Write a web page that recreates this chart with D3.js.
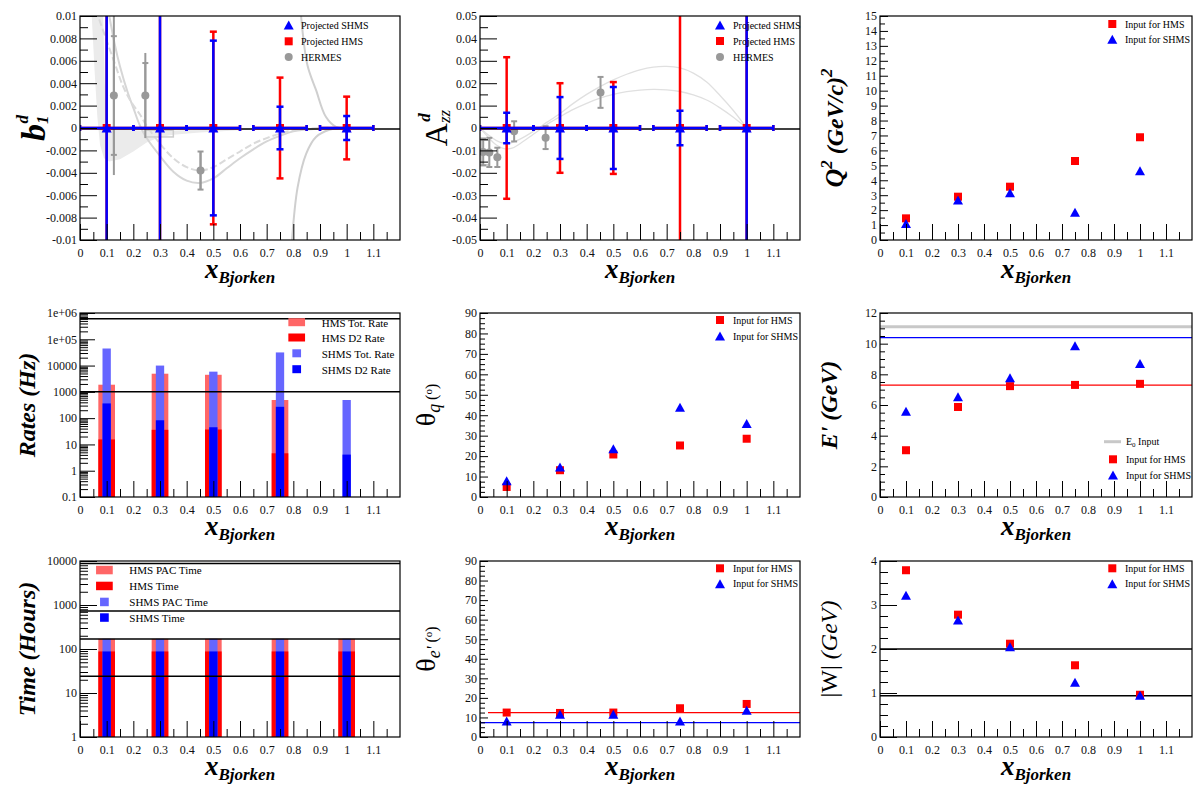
<!DOCTYPE html>
<html><head><meta charset="utf-8">
<script src="https://cdn.jsdelivr.net/npm/d3@7"></script>
<style>
body{margin:0;background:#fff;}
svg{display:block;background:#fff;}
</style></head><body>
<svg id="chart" width="1200" height="800"></svg>
<script>
// ================= DATA =================
const xTickVals   = [0,0.1,0.2,0.3,0.4,0.5,0.6,0.7,0.8,0.9,1.0,1.1];
const xTickLabels = ["0","0.1","0.2","0.3","0.4","0.5","0.6","0.7","0.8","0.9","1","1.1"];
const xMinorVals  = [0.05,0.15,0.25,0.35,0.45,0.55,0.65,0.75,0.85,0.95,1.05,1.15];

const xBins   = [0.1, 0.3, 0.5, 0.75, 1.0];
const xBinErr = [0.1, 0.1, 0.1, 0.1, 0.1];

// b1d projections
const b1dProj    = [0, 0, 0, 0, 0];
const b1dErrSHMS = [0.03, 0.03, 0.0078, 0.0019, 0.00107];
const b1dErrHMS  = [0.02, 0.02, 0.0086, 0.0045, 0.0028];
const hermesB1dX    = [0.127, 0.245, 0.452];
const hermesB1dY    = [0.0029, 0.0029, -0.0038];
const hermesB1dStat = [0.0053, 0.0029, 0.0017];
const hermesB1dTot  = [0.0071, 0.0038, 0.0017];
const b1dSysX0 = [0.245], b1dSysX1 = [0.35], b1dSysY0 = [-0.0002], b1dSysY1 = [-0.0008];
const b1dBandLowX = [0.044,0.055,0.065,0.075,0.09,0.11,0.15,0.2,0.25,0.3,0.35,0.45,0.6,0.8];
const b1dBandLowY = [0.01,0.005,0.001,-0.0015,-0.0027,-0.003,-0.0028,-0.0021,-0.0013,-0.0008,-0.0006,-0.0004,-0.0002,0];
const b1dBandUpX  = [0.087,0.093,0.1,0.11,0.15,0.2,0.3,0.5,0.8];
const b1dBandUpY  = [0.01,0.004,0.001,0.0,-0.0001,-0.0002,-0.0003,-0.0001,0];
const b1dCurveAX = [0.11,0.13,0.15,0.18,0.2,0.225,0.25,0.3,0.35,0.4,0.45,0.5,0.55,0.6,0.65,0.7,0.75,0.8,0.9,1.0];
const b1dCurveAY = [0.01,0.0075,0.0055,0.0031,0.0018,0.0002,-0.0009,-0.0025,-0.0039,-0.0047,-0.0049,-0.0045,-0.0036,-0.0027,-0.0019,-0.0012,-0.0007,-0.0003,-0.00005,0];
const b1dCurveBX = [0.072,0.1,0.13,0.16,0.19,0.225,0.25,0.3,0.35,0.4,0.45,0.5,0.55,0.6,0.65,0.7,0.75,0.8,0.9,1.0];
const b1dCurveBY = [0.0097,0.0078,0.0058,0.0038,0.0024,0.0012,0.0002,-0.0014,-0.0027,-0.0035,-0.0038,-0.0035,-0.0028,-0.0021,-0.0014,-0.0009,-0.0005,-0.0002,0,0];
const b1dCurveCX = [0.829,0.853,0.885,0.922,0.96,1.0,1.05];
const b1dCurveCY = [0.01,0.0056,0.0034,0.001,0.0001,0,0];
const b1dCurveDX = [0.795,0.816,0.848,0.885,0.935,0.97,1.0];
const b1dCurveDY = [-0.01,-0.0053,-0.0023,-0.0008,-0.00015,-0.00003,0];

// Azz projections
const azzProj    = [0, 0, 0, 0, 0];
const azzErrSHMS = [0.0068, 0.0138, 0.0183, 0.0077, 0.08];
const azzErrHMS  = [0.0316, 0.0200, 0.0205, 0.08, 0.06];
const hermesAzzX   = [0.012, 0.035, 0.065, 0.128, 0.246, 0.452];
const hermesAzzY   = [-0.0107, -0.0109, -0.0131, -0.0015, -0.0043, 0.0159];
const hermesAzzErr = [0.006, 0.0065, 0.0043, 0.0045, 0.0051, 0.0069];
const azzSysX0 = [0.004], azzSysX1 = [0.035], azzSysY0 = [-0.0055], azzSysY1 = [-0.0165];
const azzCurve1X = [0,0.03,0.06,0.09,0.12,0.15,0.2,0.25,0.3,0.35,0.4,0.45,0.5,0.55,0.6,0.65,0.7,0.75,0.8,0.85,0.9,0.95,1.0];
const azzCurve1Y = [0,-0.003,-0.0055,-0.0068,-0.0065,-0.005,-0.0015,0.0025,0.0065,0.011,0.015,0.0185,0.0215,0.024,0.026,0.0272,0.0275,0.0268,0.0245,0.0205,0.0145,0.0078,0];
const azzCurve2X = [0,0.03,0.06,0.09,0.12,0.15,0.2,0.25,0.3,0.35,0.4,0.45,0.5,0.55,0.6,0.65,0.7,0.75,0.8,0.85,0.9,0.95,1.0];
const azzCurve2Y = [0,-0.004,-0.0075,-0.0092,-0.009,-0.007,-0.0028,0.0015,0.005,0.0083,0.011,0.0133,0.015,0.0162,0.0169,0.0172,0.017,0.0163,0.0148,0.0125,0.009,0.0048,0];

// Kinematics
const q2HMS      = [1.45, 2.9, 3.57, 5.29, 6.88];
const q2SHMS     = [1.1, 2.68, 3.17, 1.85, 4.64];
const thetaqHMS  = [4.9, 13.1, 20.8, 25.2, 28.5];
const thetaqSHMS = [8.0, 14.7, 23.6, 43.9, 36.0];
const eprimeHMS  = [3.05, 5.87, 7.23, 7.31, 7.38];
const eprimeSHMS = [5.6, 6.53, 7.77, 9.87, 8.71];
const eBeam = 11.1, eprimeMaxSHMS = 10.4, eprimeMaxHMS = 7.3;
const thetaeHMS  = [12.5, 12.3, 12.5, 14.7, 16.9];
const thetaeSHMS = [8.2, 11.6, 11.6, 8.2, 13.7];
const thetaeMinHMS = 12.5, thetaeMinSHMS = 7.3;
const wHMS  = [3.79, 2.78, 2.12, 1.63, 0.96];
const wSHMS = [3.22, 2.66, 2.05, 1.245, 0.95];
const wLines = [2.0, 0.938];

// Rates (Hz)
const rateHMSTot  = [1870, 4900, 4460, 490, null];
const rateHMSD2   = [15.5, 36, 37, 4.6, null];
const rateSHMSTot = [44600, 10000, 5870, 31600, 490];
const rateSHMSD2  = [363, 83, 45, 270, 4.1];
const rateLines   = [600000, 1000];
// Time (hours)
const timeHMSPAC  = [170, 170, 170, 170, 170];
const timeHMS     = [88, 88, 88, 88, 88];
const timeSHMSPAC = [170, 170, 170, 170, 170];
const timeSHMS    = [88, 88, 88, 88, 88];
const timeLines   = [8760, 730, 168, 24];
const hmsBarWidth = 0.0625, shmsBarWidth = 0.03125;

// y tick values / labels
const b1dTicks  = [-0.01,-0.008,-0.006,-0.004,-0.002,0,0.002,0.004,0.006,0.008,0.01];
const b1dLabels = ["-0.01","-0.008","-0.006","-0.004","-0.002","0","0.002","0.004","0.006","0.008","0.01"];
const azzTicks  = [-0.05,-0.04,-0.03,-0.02,-0.01,0,0.01,0.02,0.03,0.04,0.05];
const azzLabels = ["-0.05","-0.04","-0.03","-0.02","-0.01","0","0.01","0.02","0.03","0.04","0.05"];
const q2Ticks   = [0,1,2,3,4,5,6,7,8,9,10,11,12,13,14,15];
const q2Labels  = q2Ticks.map(String);
const angTicks  = [0,10,20,30,40,50,60,70,80,90];
const angLabels = angTicks.map(String);
const epTicks   = [0,2,4,6,8,10,12];
const epLabels  = epTicks.map(String);
const wTicks    = [0,1,2,3,4];
const wLabels   = wTicks.map(String);
const rateTicks  = [0.1,1,10,100,1000,10000,1e5,1e6];
const rateLabels = ["0.1","1","10","100","1000","10000","1e+05","1e+06"];
const timeTicks  = [1,10,100,1000,10000];
const timeLabels = ["1","10","100","1000","10000"];

// ================= DRAWING =================
const SERIF = "'Liberation Serif','Times New Roman',serif";
const RED = "#ff0000", BLUE = "#0000ff", LRED = "#ff6666", LBLUE = "#6666ff", GRAY = "#999999";
const svg = d3.select('#chart');
const COL_L = [80, 480, 880], COL_R = [400, 800, 1192];
const ROW_T = [16, 313, 561], ROW_B = [240, 497, 737];
let clipN = 0;

function makePanel(c, r, domain, type) {
  const x = d3.scaleLinear().domain([0, 1.2]).range([COL_L[c], COL_R[c]]);
  const y = (type === 'log' ? d3.scaleLog() : d3.scaleLinear()).domain(domain).range([ROW_B[r], ROW_T[r]]);
  const id = 'clip' + (clipN++);
  svg.append('clipPath').attr('id', id).append('rect')
    .attr('x', COL_L[c]).attr('y', ROW_T[r]).attr('width', COL_R[c] - COL_L[c]).attr('height', ROW_B[r] - ROW_T[r]);
  const g = svg.append('g');
  const plot = g.append('g').attr('clip-path', `url(#${id})`);
  return {x, y, g, plot, c, r};
}
function minorLin(lo, hi, step, majStep) {
  const out = [];
  const n = Math.round((hi - lo) / step);
  for (let i = 0; i <= n; i++) {
    const v = +(lo + i * step).toFixed(8);
    const q = v / majStep;
    if (Math.abs(q - Math.round(q)) > 1e-6) out.push(v);
  }
  return out;
}
function minorLog(lo, hi) {
  const out = [];
  for (let e = Math.round(Math.log10(lo)); e < Math.round(Math.log10(hi)); e++)
    for (let k = 2; k <= 9; k++) out.push(k * Math.pow(10, e));
  return out;
}
function axes(p, yMaj, yLab, yMin, majLen, minLen) {
  const {x, y, g, c, r} = p;
  const a = g.append('g');
  const b = a.append('g').attr('transform', `translate(0,${ROW_B[r]})`);
  b.append('g').call(d3.axisBottom(x).tickValues(xMinorVals).tickSize(-8).tickSizeOuter(0).tickFormat(''));
  b.append('g').call(d3.axisBottom(x).tickValues(xTickVals).tickSize(-16).tickSizeOuter(0).tickPadding(8)
    .tickFormat((d, i) => xTickLabels[i]));
  const l = a.append('g').attr('transform', `translate(${COL_L[c]},0)`);
  l.append('g').call(d3.axisLeft(y).tickValues(yMin).tickSize(-minLen).tickSizeOuter(0).tickFormat(''));
  l.append('g').call(d3.axisLeft(y).tickValues(yMaj).tickSize(-majLen).tickSizeOuter(0).tickPadding(3)
    .tickFormat((d, i) => yLab[i]));
  a.selectAll('.domain').remove();
  a.selectAll('.tick line').attr('stroke', '#000').attr('stroke-width', 1);
  a.selectAll('.tick text').attr('font-family', SERIF).attr('font-size', 12).attr('fill', '#111');
  a.append('rect').attr('x', COL_L[c]).attr('y', ROW_T[r]).attr('width', COL_R[c] - COL_L[c])
    .attr('height', ROW_B[r] - ROW_T[r]).attr('fill', 'none').attr('stroke', '#000').attr('stroke-width', 1.2);
  // x title
  const t = g.append('text').attr('x', (COL_L[c] + COL_R[c]) / 2).attr('y', ROW_B[r] + 38)
    .attr('text-anchor', 'middle').attr('font-family', SERIF).attr('font-style', 'italic').attr('font-weight', 'bold');
  t.append('tspan').attr('font-size', 27).text('x');
  t.append('tspan').attr('font-size', 17).attr('dy', 5).text('Bjorken');
}
function yTitle(p, bxOff, parts) {
  const bx = COL_L[p.c] + bxOff, cy = (ROW_T[p.r] + ROW_B[p.r]) / 2;
  const t = p.g.append('text').attr('transform', `translate(${bx},${cy}) rotate(-90)`)
    .attr('text-anchor', 'middle').attr('font-family', SERIF).attr('fill', '#000');
  parts.forEach(q => {
    const s = t.append('tspan').text(q.t).attr('font-size', q.s);
    if (q.dy) s.attr('dy', q.dy);
    if (q.dx) s.attr('dx', q.dx);
    if (q.i) s.attr('font-style', 'italic');
    if (q.b) s.attr('font-weight', 'bold');
  });
}
function hline(p, v, color, w, x0 = 0, x1 = 1.2) {
  p.plot.append('line').attr('x1', p.x(x0)).attr('x2', p.x(x1)).attr('y1', p.y(v)).attr('y2', p.y(v))
    .attr('stroke', color).attr('stroke-width', w);
}
function triPath(cx, cy, w = 10, h = 9) {
  return `M${cx - w / 2},${cy + h / 2}L${cx + w / 2},${cy + h / 2}L${cx},${cy - h / 2}Z`;
}
function squares(sel, p, xs, ys, color) {
  sel.selectAll(null).data(xs.map((d, i) => [d, ys[i]])).join('rect')
    .attr('x', d => p.x(d[0]) - 4).attr('y', d => p.y(d[1]) - 4).attr('width', 8).attr('height', 8).attr('fill', color);
}
function triangles(sel, p, xs, ys, color) {
  sel.selectAll(null).data(xs.map((d, i) => [d, ys[i]])).join('path')
    .attr('d', d => triPath(p.x(d[0]), p.y(d[1]))).attr('fill', color);
}
function errBars(sel, p, xs, ys, ex, ey, color, w, cap) {
  const data = xs.map((d, i) => ({x: d, y: ys[i], ex: ex ? ex[i] : 0, ey: ey[i]}));
  const gg = sel.append('g').attr('stroke', color).attr('stroke-width', w);
  data.forEach(d => {
    const cx = p.x(d.x), cy = p.y(d.y);
    gg.append('line').attr('x1', cx).attr('x2', cx).attr('y1', p.y(d.y - d.ey)).attr('y2', p.y(d.y + d.ey));
    if (cap) {
      [d.y - d.ey, d.y + d.ey].forEach(v => gg.append('line').attr('x1', cx - cap / 2).attr('x2', cx + cap / 2).attr('y1', p.y(v)).attr('y2', p.y(v)));
    }
    if (d.ex) {
      gg.append('line').attr('x1', p.x(d.x - d.ex)).attr('x2', p.x(d.x + d.ex)).attr('y1', cy).attr('y2', cy);
      if (cap) [d.x - d.ex, d.x + d.ex].forEach(v => gg.append('line').attr('x1', p.x(v)).attr('x2', p.x(v)).attr('y1', cy - 3).attr('y2', cy + 3));
    }
  });
}
function curve(p, xs, ys, color, w, dash) {
  const l = d3.line().x(d => p.x(d[0])).y(d => p.y(d[1])).curve(d3.curveCatmullRom);
  const s = p.plot.append('path').attr('d', l(xs.map((d, i) => [d, ys[i]]))).attr('fill', 'none')
    .attr('stroke', color).attr('stroke-width', w);
  if (dash) s.attr('stroke-dasharray', dash);
}
function legText(p, x, y, txt, size) {
  return p.g.append('text').attr('x', x).attr('y', y).attr('dy', '0.35em').attr('font-family', SERIF)
    .attr('font-size', size).attr('fill', '#000').text(txt);
}
function legSquare(p, x, y, color) { p.g.append('rect').attr('x', x - 4).attr('y', y - 4).attr('width', 8).attr('height', 8).attr('fill', color); }
function legTri(p, x, y, color) { p.g.append('path').attr('d', triPath(x, y)).attr('fill', color); }

// ---------- Panel 1: b1d ----------
{
  const p = makePanel(0, 0, [-0.01, 0.01]);
  const poly = b1dBandLowX.map((d, i) => [d, b1dBandLowY[i]]).concat(b1dBandUpX.map((d, i) => [d, b1dBandUpY[i]]).reverse());
  p.plot.append('path').attr('d', d3.line().x(d => p.x(d[0])).y(d => p.y(d[1])).curve(d3.curveLinearClosed)(poly))
    .attr('fill', '#ebebeb').attr('stroke', 'none');
  curve(p, b1dCurveAX, b1dCurveAY, '#d6d6d6', 2);
  curve(p, b1dCurveBX, b1dCurveBY, '#dadada', 2, '7,3');
  curve(p, b1dCurveCX, b1dCurveCY, '#cfcfcf', 2);
  curve(p, b1dCurveDX, b1dCurveDY, '#cfcfcf', 2);
  b1dSysX0.forEach((d, i) => p.plot.append('rect').attr('x', p.x(d)).attr('y', p.y(b1dSysY0[i]))
    .attr('width', p.x(b1dSysX1[i]) - p.x(d)).attr('height', p.y(b1dSysY1[i]) - p.y(b1dSysY0[i]))
    .attr('fill', 'none').attr('stroke', '#cccccc').attr('stroke-width', 1.5));
  errBars(p.plot, p, hermesB1dX, hermesB1dY, null, hermesB1dTot, GRAY, 2, 0);
  errBars(p.plot, p, hermesB1dX, hermesB1dY, null, hermesB1dStat, GRAY, 2, 6);
  p.plot.selectAll(null).data(hermesB1dX).join('circle').attr('cx', d => p.x(d)).attr('cy', (d, i) => p.y(hermesB1dY[i])).attr('r', 4).attr('fill', GRAY);
  p.plot.append('line').attr('x1', p.x(0)).attr('x2', p.x(1.2)).attr('y1', p.y(0) + 1).attr('y2', p.y(0) + 1).attr('stroke', '#000').attr('stroke-width', 1.5);
  errBars(p.plot, p, xBins, b1dProj, xBinErr, b1dErrHMS, RED, 2.5, 7);
  squares(p.plot, p, xBins, b1dProj, RED);
  errBars(p.plot, p, xBins, b1dProj, xBinErr, b1dErrSHMS, BLUE, 2.5, 7);
  triangles(p.plot, p, xBins, b1dProj, BLUE);
  axes(p, b1dTicks, b1dLabels, minorLin(-0.01, 0.01, 0.001, 0.002), 17, 8);
  yTitle(p, -35, [{t: 'b', s: 34, i: 1, b: 1}, {t: '1', s: 17, i: 1, b: 1, dy: 3}, {t: 'd', s: 17, i: 1, b: 1, dy: -20, dx: -8}]);
  legTri(p, 288.7, 25, BLUE); legText(p, 301, 25, 'Projected SHMS', 10);
  legSquare(p, 288.7, 41.3, RED); legText(p, 301, 41.3, 'Projected HMS', 10);
  p.g.append('circle').attr('cx', 288.7).attr('cy', 57).attr('r', 4).attr('fill', GRAY); legText(p, 301, 57, 'HERMES', 10);
}
// ---------- Panel 2: Azz ----------
{
  const p = makePanel(1, 0, [-0.05, 0.05]);
  curve(p, azzCurve1X, azzCurve1Y, '#e0e0e0', 1.3);
  curve(p, azzCurve2X, azzCurve2Y, '#e0e0e0', 1.3);
  azzSysX0.forEach((d, i) => p.plot.append('rect').attr('x', p.x(d)).attr('y', p.y(azzSysY0[i]))
    .attr('width', p.x(azzSysX1[i]) - p.x(d)).attr('height', p.y(azzSysY1[i]) - p.y(azzSysY0[i]))
    .attr('fill', 'none').attr('stroke', '#aaaaaa').attr('stroke-width', 1.2));
  errBars(p.plot, p, hermesAzzX, hermesAzzY, null, hermesAzzErr, GRAY, 2, 6);
  p.plot.selectAll(null).data(hermesAzzX).join('circle').attr('cx', d => p.x(d)).attr('cy', (d, i) => p.y(hermesAzzY[i])).attr('r', 4).attr('fill', GRAY);
  p.plot.append('line').attr('x1', p.x(0)).attr('x2', p.x(1.2)).attr('y1', p.y(0) + 1).attr('y2', p.y(0) + 1).attr('stroke', '#000').attr('stroke-width', 1.5);
  errBars(p.plot, p, xBins, azzProj, xBinErr, azzErrHMS, RED, 2.5, 7);
  squares(p.plot, p, xBins, azzProj, RED);
  errBars(p.plot, p, xBins, azzProj, xBinErr, azzErrSHMS, BLUE, 2.5, 7);
  triangles(p.plot, p, xBins, azzProj, BLUE);
  axes(p, azzTicks, azzLabels, minorLin(-0.05, 0.05, 0.005, 0.01), 17, 8);
  yTitle(p, -33, [{t: 'A', s: 32}, {t: 'zz', s: 17, i: 1, dy: 3}, {t: 'd', s: 17, i: 1, b: 1, dy: -20, dx: -12}]);
  legTri(p, 720, 25, BLUE); legText(p, 733, 25, 'Projected SHMS', 10);
  legSquare(p, 720, 41, RED); legText(p, 733, 41, 'Projected HMS', 10);
  p.g.append('circle').attr('cx', 720).attr('cy', 57).attr('r', 4).attr('fill', GRAY); legText(p, 733, 57, 'HERMES', 10);
}
// ---------- Panel 3: Q2 ----------
{
  const p = makePanel(2, 0, [0, 15]);
  squares(p.plot, p, xBins, q2HMS, RED);
  triangles(p.plot, p, xBins, q2SHMS, BLUE);
  axes(p, q2Ticks, q2Labels, minorLin(0, 15, 0.5, 1), 8, 5);
  yTitle(p, -37, [{t: 'Q', s: 26, i: 1, b: 1}, {t: '2', s: 17, i: 1, b: 1, dy: -11}, {t: ' (GeV/c)', s: 24, i: 1, b: 1, dy: 11}, {t: '2', s: 17, i: 1, b: 1, dy: -11}]);
  legSquare(p, 1112.3, 24, RED); legText(p, 1125, 24, 'Input for HMS', 10);
  legTri(p, 1112.3, 39.3, BLUE); legText(p, 1125, 39.3, 'Input for SHMS', 10);
}
// ---------- Panel 4: Rates ----------
{
  const p = makePanel(0, 1, [0.1, 1e6], 'log');
  const y0 = p.y(0.1);
  const bars = (vals, w, color) => p.plot.selectAll(null).data(xBins.map((d, i) => [d, vals[i]]).filter(d => d[1] != null)).join('rect')
    .attr('x', d => p.x(d[0] - w / 2)).attr('width', d => p.x(d[0] + w / 2) - p.x(d[0] - w / 2))
    .attr('y', d => p.y(d[1])).attr('height', d => y0 - p.y(d[1])).attr('fill', color);
  bars(rateHMSTot, hmsBarWidth, LRED);
  bars(rateHMSD2, hmsBarWidth, RED);
  bars(rateSHMSTot, shmsBarWidth, LBLUE);
  bars(rateSHMSD2, shmsBarWidth, BLUE);
  rateLines.forEach(v => hline(p, v, '#000', 1.5));
  axes(p, rateTicks, rateLabels, minorLog(0.1, 1e6), 15, 8);
  yTitle(p, -45, [{t: 'Rates (Hz)', s: 24, i: 1, b: 1}]);
  const lg = [['HMS Tot. Rate', LRED, 1], ['HMS D2 Rate', RED, 1], ['SHMS Tot. Rate', LBLUE, 0], ['SHMS D2 Rate', BLUE, 0]];
  const ly = [322.2, 337.5, 353.3, 369.2], lt = [322.7, 338.3, 354, 370];
  lg.forEach((d, i) => {
    const w = d[2] ? 16.7 : 8.7, cx = 296.7;
    p.g.append('rect').attr('x', cx - w / 2).attr('y', ly[i] - 4).attr('width', w).attr('height', 8).attr('fill', d[1]);
    legText(p, 321.7, lt[i], d[0], 11);
  });
}
// ---------- Panel 5: theta_q ----------
{
  const p = makePanel(1, 1, [0, 90]);
  squares(p.plot, p, xBins, thetaqHMS, RED);
  triangles(p.plot, p, xBins, thetaqSHMS, BLUE);
  axes(p, angTicks, angLabels, minorLin(0, 90, 2.5, 10), 8, 5);
  yTitle(p, -45, [{t: 'θ', s: 28}, {t: 'q', s: 18, i: 1, dy: 5}, {t: ' (', s: 16, dy: -3}, {t: 'o', s: 11, dy: -5}, {t: ')', s: 16, dy: 5}]);
  legSquare(p, 720, 320, RED); legText(p, 733, 320, 'Input for HMS', 10);
  legTri(p, 720, 336, BLUE); legText(p, 733, 336, 'Input for SHMS', 10);
}
// ---------- Panel 6: E' ----------
{
  const p = makePanel(2, 1, [0, 12]);
  hline(p, eBeam, '#c8c8c8', 3);
  hline(p, eprimeMaxSHMS, BLUE, 1.3);
  hline(p, eprimeMaxHMS, RED, 1.3);
  squares(p.plot, p, xBins, eprimeHMS, RED);
  triangles(p.plot, p, xBins, eprimeSHMS, BLUE);
  axes(p, epTicks, epLabels, minorLin(0, 12, 0.5, 2), 8, 5);
  yTitle(p, -43, [{t: "E' (GeV)", s: 24, i: 1, b: 1}]);
  p.g.append('line').attr('x1', 1104).attr('x2', 1121).attr('y1', 441.7).attr('y2', 441.7).attr('stroke', '#c8c8c8').attr('stroke-width', 3);
  const t = legText(p, 1126, 441.7, 'E', 10); t.append('tspan').attr('font-size', 7).attr('dy', 2).text('0'); t.append('tspan').attr('dy', -2).text(' Input');
  legSquare(p, 1113, 459.3, RED); legText(p, 1126, 459.3, 'Input for HMS', 10);
  legTri(p, 1113, 475, BLUE); legText(p, 1126, 475, 'Input for SHMS', 10);
}
// ---------- Panel 7: Time ----------
{
  const p = makePanel(0, 2, [1, 10000], 'log');
  const y0 = p.y(1);
  const bars = (vals, w, color) => p.plot.selectAll(null).data(xBins.map((d, i) => [d, vals[i]])).join('rect')
    .attr('x', d => p.x(d[0] - w / 2)).attr('width', d => p.x(d[0] + w / 2) - p.x(d[0] - w / 2))
    .attr('y', d => p.y(d[1])).attr('height', d => y0 - p.y(d[1])).attr('fill', color);
  bars(timeHMSPAC, hmsBarWidth, LRED);
  bars(timeHMS, hmsBarWidth, RED);
  bars(timeSHMSPAC, shmsBarWidth, LBLUE);
  bars(timeSHMS, shmsBarWidth, BLUE);
  timeLines.forEach(v => hline(p, v, '#000', 1.5));
  axes(p, timeTicks, timeLabels, minorLog(1, 10000), 17, 8);
  yTitle(p, -45, [{t: 'Time (Hours)', s: 24, i: 1, b: 1}]);
  const lg = [['HMS PAC Time', LRED, 1], ['HMS Time', RED, 1], ['SHMS PAC Time', LBLUE, 0], ['SHMS Time', BLUE, 0]];
  const ly = [570, 585.9, 601.9, 617.5], lt = [570, 586.3, 602.3, 618.3];
  lg.forEach((d, i) => {
    const w = d[2] ? 16.7 : 8.7, cx = 104.4;
    p.g.append('rect').attr('x', cx - w / 2).attr('y', ly[i] - 4.2).attr('width', w).attr('height', 8.5).attr('fill', d[1]);
    legText(p, 129.3, lt[i], d[0], 11);
  });
}
// ---------- Panel 8: theta_e' ----------
{
  const p = makePanel(1, 2, [0, 90]);
  hline(p, thetaeMinHMS, RED, 1.3, 0.03, 1.2);
  hline(p, thetaeMinSHMS, BLUE, 1.3);
  squares(p.plot, p, xBins, thetaeHMS, RED);
  triangles(p.plot, p, xBins, thetaeSHMS, BLUE);
  axes(p, angTicks, angLabels, minorLin(0, 90, 2.5, 10), 8, 5);
  yTitle(p, -45, [{t: 'θ', s: 28}, {t: "e'", s: 18, i: 1, dy: 5}, {t: ' (', s: 16, dy: -3}, {t: 'o', s: 11, dy: -5}, {t: ')', s: 16, dy: 5}]);
  legSquare(p, 720, 568.3, RED); legText(p, 733, 568.3, 'Input for HMS', 10);
  legTri(p, 720, 583.7, BLUE); legText(p, 733, 583.7, 'Input for SHMS', 10);
}
// ---------- Panel 9: W ----------
{
  const p = makePanel(2, 2, [0, 4]);
  wLines.forEach(v => hline(p, v, '#000', 1.5));
  squares(p.plot, p, xBins, wHMS, RED);
  triangles(p.plot, p, xBins, wSHMS, BLUE);
  axes(p, wTicks, wLabels, minorLin(0, 4, 0.25, 1), 17, 8);
  yTitle(p, -43, [{t: '|W|', s: 24}, {t: ' (GeV)', s: 24, i: 1}]);
  legSquare(p, 1112.3, 568.3, RED); legText(p, 1125, 568.3, 'Input for HMS', 10);
  legTri(p, 1112.3, 583.7, BLUE); legText(p, 1125, 583.7, 'Input for SHMS', 10);
}
</script>
</body></html>
